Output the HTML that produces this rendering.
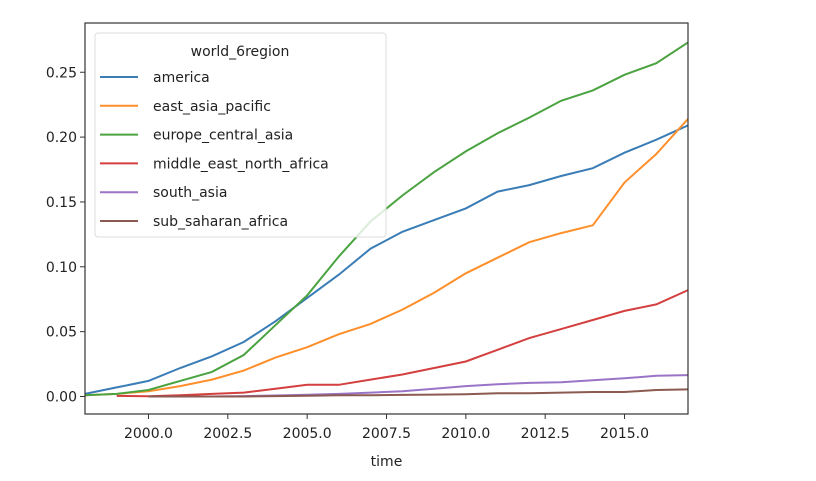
<!DOCTYPE html>
<html><head><meta charset="utf-8"><style>body{margin:0;background:#fff}svg{font-family:"DejaVu Sans","Liberation Sans",sans-serif}</style></head>
<body>
<svg id="chart" width="816" height="476"></svg>
<script>
const years=[1998,1999,2000,2001,2002,2003,2004,2005,2006,2007,2008,2009,2010,2011,2012,2013,2014,2015,2016,2017];
const seriesNames=["america","east_asia_pacific","europe_central_asia","middle_east_north_africa","south_asia","sub_saharan_africa"];
const colors=["#3a7db6","#ff8f2a","#4aa340","#d43f3f","#9a74c6","#8c5a50"];
const america=[0.002,0.007,0.012,0.022,0.031,0.042,0.058,0.076,0.094,0.114,0.127,0.136,0.145,0.158,0.163,0.170,0.176,0.188,0.198,0.209];
const eastAsia=[0.001,0.002,0.004,0.008,0.013,0.020,0.030,0.038,0.048,0.056,0.067,0.080,0.095,0.107,0.119,0.126,0.132,0.165,0.187,0.214];
const europe=[0.001,0.002,0.005,0.012,0.019,0.032,0.055,0.078,0.108,0.135,0.155,0.173,0.189,0.203,0.215,0.228,0.236,0.248,0.257,0.273];
const mena=[null,0.0005,0.0002,0.001,0.002,0.003,0.006,0.009,0.009,0.013,0.017,0.022,0.027,0.036,0.045,0.052,0.059,0.066,0.071,0.082];
const southAsia=[null,null,0,0,0,0.0003,0.0008,0.0013,0.002,0.003,0.004,0.006,0.008,0.0095,0.0105,0.011,0.0125,0.014,0.016,0.0165];
const subSahara=[null,null,0,0,0,0,0.0003,0.0006,0.001,0.001,0.0012,0.0015,0.0018,0.0025,0.0025,0.003,0.0035,0.0035,0.005,0.0055];
const xTicks=[2000,2002.5,2005,2007.5,2010,2012.5,2015];
const yTicks=[0,0.05,0.10,0.15,0.20,0.25];
const allSeries=[america,eastAsia,europe,mena,southAsia,subSahara];
const L=85,R=688,T=23,B=414;
const x=v=>L+(v-1998)/(2017-1998)*(R-L);
const y=v=>396.5-v*1297;
const svg=document.getElementById('chart');const NS="http://www.w3.org/2000/svg";
function mk(t,a,txt){const e=document.createElementNS(NS,t);for(const k in a)e.setAttribute(k,a[k]);if(txt!=null)e.textContent=txt;svg.appendChild(e);return e;}
xTicks.forEach(t=>{
 const l=mk('line',{x1:x(t),x2:x(t),y1:B,y2:B+5,stroke:'#333'});
 
 
 const tx=mk('text',{x:x(t),y:B+24,'text-anchor':'middle','font-size':14,fill:'#222'},t.toFixed(1));
 
 
});
yTicks.forEach(t=>{
 const l=mk('line',{x1:L-5,x2:L,y1:y(t),y2:y(t),stroke:'#333'});
 
 
 const tx=mk('text',{x:L-8,y:y(t)+5,'text-anchor':'end','font-size':14,fill:'#222'},t.toFixed(2));
 
 
});
const xl=mk('text',{x:(L+R)/2,y:466,'text-anchor':'middle','font-size':14,fill:'#222'},'time');


allSeries.forEach((s,i)=>{
 let d='';let pen=false;
 s.forEach((v,j)=>{if(v==null){pen=false;return;}d+=(pen?'L':'M')+x(years[j]).toFixed(1)+' '+y(v).toFixed(1);pen=true;});
 const p=mk('path',{d:d,fill:'none',stroke:colors[i],'stroke-width':2});
 
 
});
const fr=mk('rect',{x:L,y:T,width:R-L,height:B-T,fill:'none',stroke:'#333','stroke-width':1.2});


const lg=mk('rect',{x:95,y:33,width:291,height:204,rx:3,fill:'rgba(255,255,255,0.8)',stroke:'#ddd'});


const lt=mk('text',{x:240,y:56,'text-anchor':'middle','font-size':14,fill:'#222'},'world_6region');


seriesNames.forEach((n,i)=>{
 const yy=77+i*28.8;
 const l=mk('line',{x1:100,x2:138,y1:yy,y2:yy,stroke:colors[i],'stroke-width':2});
 
 
 const t=mk('text',{x:153,y:yy+5,'font-size':14,fill:'#222'},n);
 
 
});
</script>
</body></html>
